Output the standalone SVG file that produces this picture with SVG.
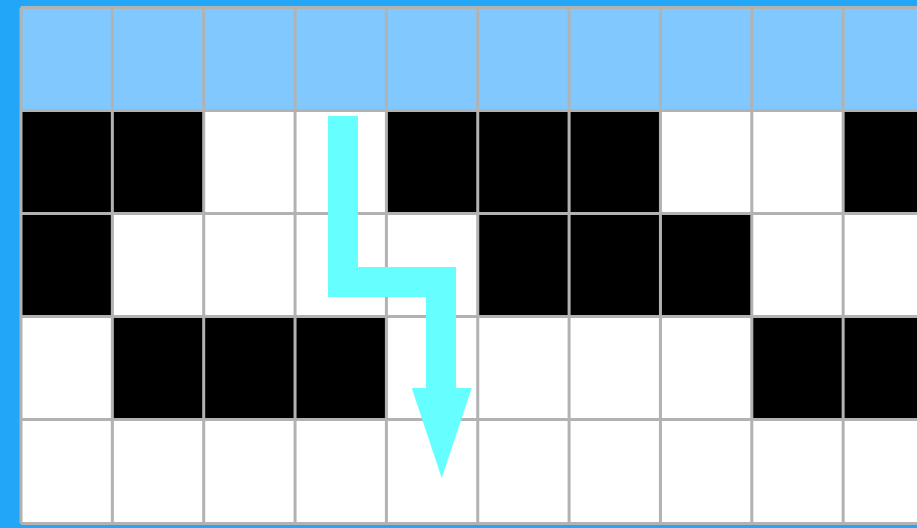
<svg xmlns="http://www.w3.org/2000/svg" width="917" height="528" viewBox="0 0 917 528">
  <style>
    .h{fill:#80c8fd}
    .b{fill:#000000}
    .w{fill:#ffffff}
    .g{stroke:#b2b2b2;stroke-width:3;fill:none}
    .arrow{fill:#66ffff}
  </style>
  <rect x="0" y="0" width="917" height="528" fill="#22a7f8"/>
  <g id="grid">
    <rect x="21" y="7.5" width="896" height="516" class="w"/>
    <rect x="21" y="7.5" width="896" height="103" class="h"/>
    <!-- row 1 -->
    <rect x="21" y="110.5" width="91.35" height="103" class="b"/>
    <rect x="112.35" y="110.5" width="91.35" height="103" class="b"/>
    <rect x="386.4" y="110.5" width="91.35" height="103" class="b"/>
    <rect x="477.75" y="110.5" width="91.35" height="103" class="b"/>
    <rect x="569.1" y="110.5" width="91.35" height="103" class="b"/>
    <rect x="843.15" y="110.5" width="91.35" height="103" class="b"/>
    <!-- row 2 -->
    <rect x="21" y="213.5" width="91.35" height="103" class="b"/>
    <rect x="477.75" y="213.5" width="91.35" height="103" class="b"/>
    <rect x="569.1" y="213.5" width="91.35" height="103" class="b"/>
    <rect x="660.45" y="213.5" width="91.35" height="103" class="b"/>
    <!-- row 3 -->
    <rect x="112.35" y="316.5" width="91.35" height="103" class="b"/>
    <rect x="203.7" y="316.5" width="91.35" height="103" class="b"/>
    <rect x="295.05" y="316.5" width="91.35" height="103" class="b"/>
    <rect x="751.8" y="316.5" width="91.35" height="103" class="b"/>
    <rect x="843.15" y="316.5" width="91.35" height="103" class="b"/>
    <path class="g" d="M21,7.5H917 M21,110.5H917 M21,213.5H917 M21,316.5H917 M21,419.5H917 M21,523.5H917
      M21,7.5V523.5 M112.35,7.5V523.5 M203.7,7.5V523.5 M295.05,7.5V523.5 M386.4,7.5V523.5 M477.75,7.5V523.5 M569.1,7.5V523.5 M660.45,7.5V523.5 M751.8,7.5V523.5 M843.15,7.5V523.5"/>
  </g>
  <g id="connectors">
    <polygon class="arrow" points="328,116 358,116 358,267 456,267 456,388 471.7,388 441.7,478 411.7,388 426,388 426,297 328,297"/>
  </g>
</svg>
